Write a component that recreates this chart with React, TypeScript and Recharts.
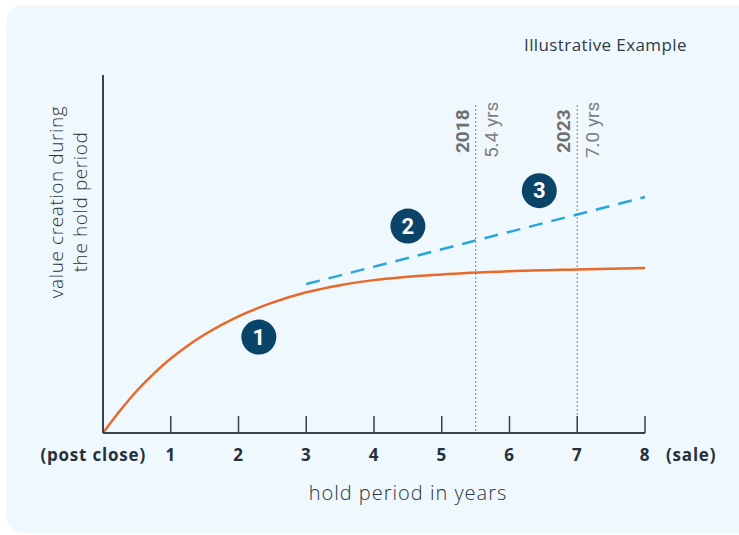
import { LineChart, Line, XAxis, YAxis, ReferenceLine, ReferenceDot, Label } from 'recharts';

// hold period (years) and value created along the base curve
const years = [0, 0.25, 0.5, 0.75, 1, 1.25, 1.5, 1.75, 2, 2.5, 3, 3.5, 4, 5, 6, 7, 8];
const baseValue = [0, 6.2, 11.8, 16.6, 20.8, 24.4, 27.5, 30.2, 32.6, 36.4, 39.3, 41.3, 42.7, 44.3, 45.2, 45.7, 46.1];

// dashed trend (continued value creation)
const trendYears = [3, 8];
const trendValue = [41.6, 65.9];

const tickYears = [0, 1, 2, 3, 4, 5, 6, 7, 8];

// exit markers
const exitYears = [5.5, 7];
const exitDates = ['2018', '2023'];
const exitHolds = ['5.4 yrs', '7.0 yrs'];

// numbered steps
const stepLabels = ['1', '2', '3'];
const stepYears = [2.3, 4.5, 6.44];
const stepValues = [26.8, 57.8, 67.7];

const baseData = years.map((x, i) => ({ x, v: baseValue[i] }));
const trendData = trendYears.map((x, i) => ({ x, v: trendValue[i] }));

const FONT = 'Roboto, "Open Sans", sans-serif';
const SANS = '"Open Sans", sans-serif';
const AXIS = '#36434f';

function YearTick(props: any) {
  const { x, y, payload } = props;
  const v = payload.value;
  const style = { fontFamily: SANS, fontSize: 17, fontWeight: 700, fill: '#26303b', letterSpacing: 0.8 };
  return (
    <g>
      {v !== 0 && <line x1={x} x2={x} y1={y} y2={y - 17} stroke={AXIS} strokeWidth={1.5} />}
      <text x={v === 0 ? x + 43 : x} y={y + 28} textAnchor={v === 0 ? 'end' : 'middle'} style={style}>
        {v === 0 ? '(post close)' : v}
      </text>
      {v === 8 && (
        <text x={x + 21} y={y + 28} textAnchor="start" style={style}>
          (sale)
        </text>
      )}
    </g>
  );
}

function exitLabel(i: number) {
  return (p: any) => {
    const { x, y } = p.viewBox;
    return (
      <g style={{ fontFamily: FONT, fontSize: 19 }}>
        <text transform={`translate(${x - 7},${y + 48}) rotate(-90)`} fill="#707070" fontWeight={700}>
          {exitDates[i]}
        </text>
        <text transform={`translate(${x + 22},${y + 53}) rotate(-90)`} fill="#808080">
          {exitHolds[i]}
        </text>
      </g>
    );
  };
}

export default function App() {
  return (
    <div style={{ position: 'absolute', left: 0, top: 0, width: 739, height: 535, background: '#fff', overflow: 'hidden' }}>
      <div style={{ position: 'absolute', left: 6, top: 5, width: 760, height: 528, borderRadius: 18, background: '#eff8fd' }} />
      <div
        style={{ position: 'absolute', left: 524, top: 33, fontFamily: SANS, fontSize: 17, letterSpacing: 0.4, color: '#2e3b4a' }}
      >
        Illustrative Example
      </div>
      <div style={{ position: 'absolute', left: 0, top: 0 }}>
        <LineChart width={739} height={535} margin={{ top: 75, right: 94, left: 102, bottom: 0 }}>
          <XAxis
            dataKey="x"
            type="number"
            domain={[0, 8]}
            ticks={tickYears}
            interval={0}
            height={102}
            tickSize={0}
            tickMargin={0}
            tickLine={false}
            axisLine={{ stroke: AXIS, strokeWidth: 2 }}
            tick={<YearTick />}
          >
            <Label
              content={(p: any) => (
                <text
                  x={p.viewBox.x + p.viewBox.width / 2 + 34}
                  y={p.viewBox.y + 67}
                  textAnchor="middle"
                  style={{ fontFamily: SANS, fontSize: 20, fontWeight: 300, letterSpacing: 1, fill: '#2b3540' }}
                >
                  hold period in years
                </text>
              )}
            />
          </XAxis>
          <YAxis
            type="number"
            domain={[0, 100]}
            width={1}
            tick={false}
            tickLine={false}
            axisLine={{ stroke: AXIS, strokeWidth: 2 }}
          >
            <Label
              content={(p: any) => {
                const cy = p.viewBox.y + p.viewBox.height / 2 - 52;
                const st = { fontFamily: SANS, fontSize: 19, fontWeight: 300, letterSpacing: 0.6, fill: '#2b3540' };
                return (
                  <g>
                    <text transform={`translate(63,${cy}) rotate(-90)`} textAnchor="middle" style={st}>
                      value creation during
                    </text>
                    <text transform={`translate(87,${cy}) rotate(-90)`} textAnchor="middle" style={st}>
                      the hold period
                    </text>
                  </g>
                );
              }}
            />
          </YAxis>
          {exitYears.map((yr, i) => (
            <ReferenceLine
              key={yr}
              segment={[
                { x: yr, y: 91.6 },
                { x: yr, y: 0 },
              ]}
              stroke="#9a9a9a"
              strokeWidth={1.2}
              strokeDasharray="2 2"
              label={exitLabel(i)}
            />
          ))}
          <Line
            data={baseData}
            dataKey="v"
            type="monotone"
            stroke="#e8692a"
            strokeWidth={2.5}
            dot={false}
            isAnimationActive={false}
          />
          <Line
            data={trendData}
            dataKey="v"
            type="linear"
            stroke="#29a6dc"
            strokeWidth={2.5}
            strokeDasharray="14 9"
            dot={false}
            isAnimationActive={false}
          />
          {stepLabels.map((s, i) => (
            <ReferenceDot
              key={s}
              x={stepYears[i]}
              y={stepValues[i]}
              r={17.5}
              fill="#0b4469"
              stroke="none"
              label={{ value: s, position: 'center', fill: '#fff', fontSize: 22, fontWeight: 700, fontFamily: FONT }}
            />
          ))}
        </LineChart>
      </div>
    </div>
  );
}
